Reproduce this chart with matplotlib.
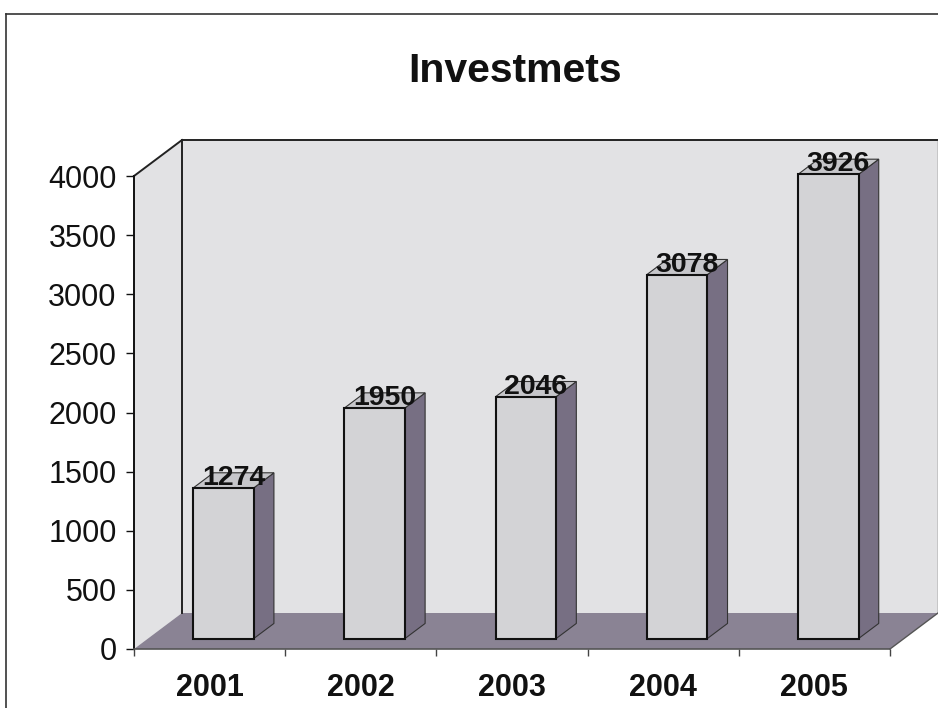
import numpy as np
import matplotlib.pyplot as plt
from matplotlib.patches import Polygon, Rectangle
from matplotlib.lines import Line2D

plt.rcParams['font.family'] = ['Liberation Sans', 'DejaVu Sans']

years = ['2001', '2002', '2003', '2004', '2005']
values = [1274, 1950, 2046, 3078, 3926]
yticks = [0, 500, 1000, 1500, 2000, 2500, 3000, 3500, 4000]

# colours of the 3d box
wall_col = '#e2e2e4'
floor_col = '#8a8394'
front_col = '#d3d3d6'
side_col = '#776f83'
top_col = '#c6c6ca'

W, H = 938, 708
fig = plt.figure(figsize=(W / 100, H / 100), dpi=100)
fig.patch.set_facecolor('white')

# front plane of the plot in pixels
x0, x1, yb, yt = 134, 890, 649, 176
ax = fig.add_axes([x0 / W, (H - yb) / H, (x1 - x0) / W, (yb - yt) / H])
ncat = len(years)
ymax = yticks[-1]
ax.set_xlim(0, ncat)
ax.set_ylim(0, ymax)
ax.patch.set_visible(False)

# depth of the box, in data units (48 px right, 36 px up)
DX = 48 / ((x1 - x0) / ncat)
DY = 36 / ((yb - yt) / ymax)

# walls and floor
ax.add_patch(Polygon([(DX, DY), (ncat + DX, DY), (ncat + DX, ymax + DY), (DX, ymax + DY)],
                     closed=True, fc=wall_col, ec='none', zorder=0.5, clip_on=False))
ax.add_patch(Polygon([(0, 0), (DX, DY), (DX, ymax + DY), (0, ymax)],
                     closed=True, fc=wall_col, ec='none', zorder=0.6, clip_on=False))
ax.add_patch(Polygon([(0, 0), (ncat, 0), (ncat + DX, DY), (DX, DY)],
                     closed=True, fc=floor_col, ec='none', zorder=0.7, clip_on=False))

edge = dict(color='#222222', lw=1.4, zorder=0.8, clip_on=False)
ax.plot([0, DX], [ymax, ymax + DY], **edge)
ax.plot([DX, DX], [DY, ymax + DY], **edge)
ax.plot([DX, ncat + DX], [ymax + DY, ymax + DY], **edge)
ax.plot([ncat + DX, ncat + DX], [DY, ymax + DY], color='#555555', lw=1.0, zorder=0.8, clip_on=False)
ax.plot([ncat, ncat + DX], [0, DY], color='#555555', lw=1.0, zorder=0.8, clip_on=False)

# bars
bw = 0.40      # bar width
f0 = 0.29      # front face position within the floor depth
bd = 0.42      # bar depth
for i, v in enumerate(values):
    xl = i + 0.5 - bw / 2 + f0 * DX
    y0 = f0 * DY
    ox, oy = bd * DX, bd * DY
    ax.add_patch(Polygon([(xl + bw, y0), (xl + bw + ox, y0 + oy),
                          (xl + bw + ox, y0 + v + oy), (xl + bw, y0 + v)],
                         closed=True, fc=side_col, ec='#333333', lw=0.8, zorder=2, clip_on=False))
    ax.add_patch(Polygon([(xl, y0 + v), (xl + bw, y0 + v),
                          (xl + bw + ox, y0 + v + oy), (xl + ox, y0 + v + oy)],
                         closed=True, fc=top_col, ec='#333333', lw=0.8, zorder=2, clip_on=False))
    ax.add_patch(Rectangle((xl, y0), bw, v, fc=front_col, ec='#111111', lw=1.5,
                           zorder=3, clip_on=False))
    ax.text(xl + bw / 2 + ox / 2, y0 + v + oy * 0.65, str(v), ha='center', va='center',
            fontsize=20.5, fontweight='bold', color='#111111', zorder=4, clip_on=False)

# axes lines and ticks
for s in ['top', 'right']:
    ax.spines[s].set_visible(False)
ax.spines['left'].set_color('#111111')
ax.spines['left'].set_linewidth(1.4)
ax.spines['bottom'].set_color('#555555')
ax.spines['bottom'].set_linewidth(1.2)

ax.set_yticks(yticks)
ax.set_yticklabels([str(t) for t in yticks])
ax.tick_params(axis='y', direction='out', length=6, width=1.0, pad=6.5,
               labelsize=22, colors='#111111')

ax.set_xticks(np.arange(ncat + 1))
ax.set_xticklabels([])
ax.set_xticks(np.arange(ncat) + 0.5, minor=True)
ax.set_xticklabels(years, minor=True, fontweight='bold')
ax.tick_params(axis='x', which='major', direction='out', length=5, width=1.0, color='#444444')
ax.tick_params(axis='x', which='minor', length=0, pad=17, labelsize=22, labelcolor='#111111')

fig.text(515 / W, 1 - 71 / H, 'Investmets', ha='center', va='center',
         fontsize=29.5, fontweight='bold', color='#111111')

# outer frame of the chart area
fig.add_artist(Line2D([6 / W, 1], [1 - 14 / H, 1 - 14 / H], transform=fig.transFigure,
                      color='#333333', lw=1.2))
fig.add_artist(Line2D([6 / W, 6 / W], [0, 1 - 14 / H], transform=fig.transFigure,
                      color='#333333', lw=1.2))

fig.savefig('out.png', dpi=100)
